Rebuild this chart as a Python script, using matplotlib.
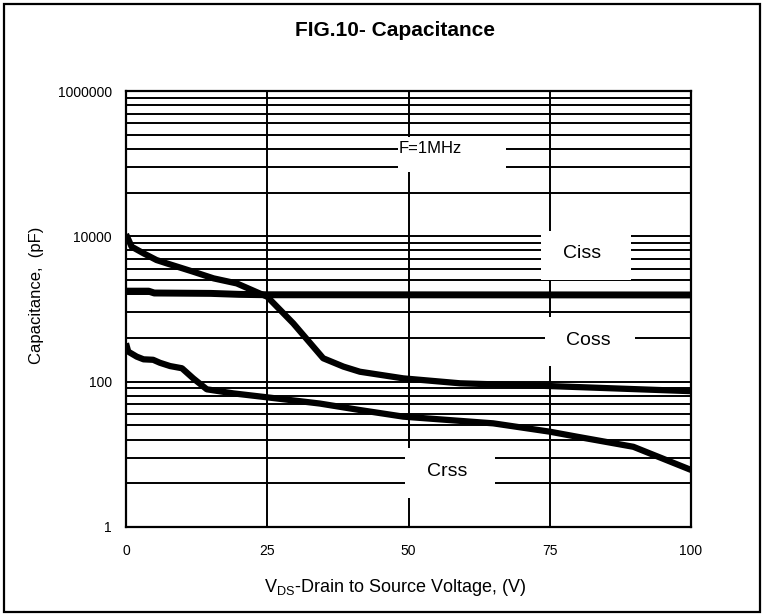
import matplotlib
matplotlib.use("Agg")
import matplotlib.pyplot as plt
from matplotlib.patches import Rectangle
from matplotlib.ticker import FixedLocator

plt.rcParams['font.family'] = ['Liberation Sans', 'DejaVu Sans']
plt.rcParams['mathtext.fontset'] = 'custom'
plt.rcParams['mathtext.rm'] = 'Liberation Sans'

# Drain-source voltage (V) and capacitance readings (pF)
v_upper = [0, 1, 3.1, 5.4, 7.2, 11.9, 15.5, 19.6, 25, 29.6, 34.9, 38.5, 41.4, 49.1, 59.1, 75, 100]
c_upper = [10700, 7200, 5840, 4720, 4250, 3260, 2640, 2250, 1475, 635, 210, 161, 137, 111, 95, 87, 74]

v_flat = [0, 4, 5, 15, 20, 25, 100]
c_flat = [1760, 1760, 1660, 1640, 1590, 1570, 1560]

v_lower = [0, 0.4, 1.9, 3.1, 4.8, 6, 7.8, 9.9, 11.9, 14.3, 19, 24.9, 34.3, 41.4, 49.1, 65, 75, 79.8, 89.8, 100]
c_lower = [337, 259, 221, 203, 200, 182, 164, 153, 111, 78.5, 69, 61, 50, 40.7, 33, 26.7, 20.5, 17.5, 12.7, 6.1]

x_ticks = [0, 25, 50, 75, 100]
y_ticks = [1, 100, 10000, 1000000]
y_tick_labels = ["1", "100", "10000", "1000000"]

fig = plt.figure(figsize=(7.65, 6.15), dpi=100)
ax = fig.add_axes([126 / 765, 1 - 527 / 615, 565 / 765, 436 / 615])

ax.set_yscale('log')
ax.set_xlim(0, 100)
ax.set_ylim(1, 1e6)

ax.set_xticks(x_ticks)
ax.set_xticklabels([str(t) for t in x_ticks])
ax.yaxis.set_major_locator(FixedLocator(y_ticks))
ax.set_yticklabels(y_tick_labels)
ax.yaxis.set_minor_locator(FixedLocator([]))
ax.tick_params(axis='both', which='both', length=0, labelsize=10)
ax.tick_params(axis='x', pad=12)
ax.tick_params(axis='y', pad=10)

# base-100 log grid: lines at 100**n * k**2, plus 25 V vertical steps
grid_levels = [100 ** n * k ** 2 for n in range(3) for k in range(2, 10)] + [100, 10000]
for y in grid_levels:
    ax.axhline(y, color='black', lw=1.4, zorder=1)
for x in [25, 50, 75]:
    ax.axvline(x, color='black', lw=1.4, zorder=1)

for s in ax.spines.values():
    s.set_linewidth(1.6)
    s.set_zorder(5)

# white label boxes over the grid
def label_box(x0, x1, y0, y1, text, tx, ty, size, ha='center'):
    ax.add_patch(Rectangle((x0, y0), x1 - x0, y1 - y0, facecolor='white',
                           edgecolor='none', zorder=2))
    ax.text(tx, ty, text, fontsize=size, ha=ha, va='center', zorder=3)

label_box(48.1, 67.2, 7.75e4, 2.35e5, "F=1MHz", 48.2, 1.6e5, 12, ha='left')
label_box(73.5, 89.3, 2.5e3, 1.2e4, "Ciss", 80.7, 5.8e3, 14)
label_box(74.2, 90.1, 164, 783, "Coss", 81.9, 374, 14)
label_box(49.4, 65.3, 2.5, 12.2, "Crss", 56.8, 5.77, 14)

ax.plot(v_upper, c_upper, color='black', lw=4.5, solid_capstyle='butt', zorder=4)
ax.plot(v_flat, c_flat, color='black', lw=5, solid_capstyle='butt', zorder=4)
ax.plot(v_lower, c_lower, color='black', lw=4.5, solid_capstyle='butt', zorder=4)

fig.text(394.5 / 765, 1 - 31 / 615, "FIG.10- Capacitance", fontsize=15,
         fontweight='bold', ha='center', va='center')
fig.text(37 / 765, 1 - 295 / 615, "Capacitance,  (pF)", fontsize=12,
         rotation=90, ha='center', va='center')
fig.text(395 / 765, 1 - 588 / 615, r"V$_{\mathregular{DS}}$-Drain to Source Voltage, (V)",
         fontsize=13, ha='center', va='center')

fig.patches.append(Rectangle((4 / 765, 3 / 615), 756 / 765, 608 / 615,
                             transform=fig.transFigure, fill=False,
                             edgecolor='black', lw=1.6))

fig.savefig("out.png", dpi=100)
